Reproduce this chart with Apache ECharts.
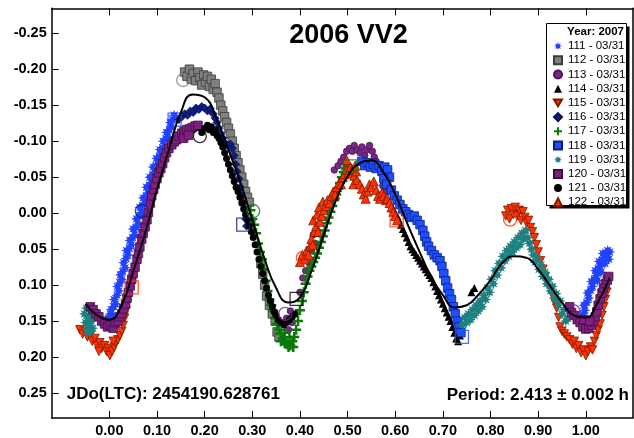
<!DOCTYPE html>
<html>
<head>
<meta charset="utf-8">
<script src="https://cdn.jsdelivr.net/npm/echarts@6/dist/echarts.min.js"></script>
<style>
html, body { margin: 0; padding: 0; background: #fff; }
#chart { width: 634px; height: 438px; }
</style>
</head>
<body>
<div id="chart"></div>
<script>
// ---- Lightcurve of asteroid 2006 VV2, 2007 sessions 111..122 (phase, reduced magnitude) ----

const sessionKeys = ['111', '112', '113', '114', '115', '116', '117', '118', '119', '120', '121', '122'];
const sessionDate = '03/31';

const s111 = [
  [-0.006,0.150],[-0.002,0.146],[0.002,0.140],[0.006,0.142],[0.004,0.134],[0.009,0.130],[0.013,0.126],[0.010,0.120],
  [0.016,0.114],[0.020,0.108],[0.017,0.102],[0.022,0.097],[0.026,0.092],[0.023,0.086],[0.028,0.081],[0.033,0.076],
  [0.030,0.069],[0.035,0.063],[0.039,0.058],[0.036,0.052],[0.042,0.049],[0.046,0.044],[0.043,0.038],[0.049,0.034],
  [0.053,0.030],[0.050,0.022],[0.056,0.020],[0.060,0.015],[0.057,0.008],[0.063,0.004],[0.067,-0.001],[0.064,-0.008],
  [0.070,-0.010],[0.074,-0.014],[0.071,-0.021],[0.077,-0.024],[0.081,-0.028],[0.078,-0.036],[0.084,-0.039],[0.088,-0.042],
  [0.085,-0.050],[0.091,-0.053],[0.095,-0.057],[0.092,-0.064],[0.098,-0.066],[0.102,-0.068],[0.099,-0.076],[0.105,-0.079],
  [0.109,-0.081],[0.106,-0.088],[0.112,-0.091],[0.116,-0.093],[0.113,-0.100],[0.119,-0.103],[0.123,-0.106],[0.120,-0.112],
  [0.126,-0.116],[0.130,-0.120],[0.128,-0.126],[0.133,-0.130],[0.136,-0.136],
  [0.990,0.146],[0.994,0.140],[0.998,0.135],[0.996,0.128],[1.002,0.124],[1.006,0.118],[1.004,0.111],[1.010,0.107],
  [1.014,0.102],[1.012,0.095],[1.018,0.092],[1.022,0.087],[1.020,0.080],[1.026,0.077],[1.030,0.074],[1.028,0.067],
  [1.034,0.066],[1.038,0.062],[1.036,0.056],[1.042,0.056],[1.046,0.052],[1.044,0.060],[1.050,0.054],[1.048,0.064],
  [1.040,0.070],[1.032,0.082],[1.024,0.094]
];
const s112 = [
  [0.158,-0.196],[0.163,-0.190],[0.168,-0.200],[0.172,-0.186],[0.176,-0.194],[0.181,-0.184],[0.186,-0.196],[0.190,-0.188],
  [0.194,-0.178],[0.198,-0.192],[0.202,-0.182],[0.206,-0.190],[0.210,-0.176],[0.214,-0.186],[0.218,-0.172],[0.222,-0.180],
  [0.226,-0.168],[0.230,-0.160],[0.234,-0.150],[0.238,-0.142],[0.242,-0.134],[0.246,-0.126],[0.250,-0.118],[0.254,-0.110],
  [0.258,-0.100],[0.262,-0.090],[0.266,-0.080],[0.270,-0.070],[0.274,-0.060],[0.278,-0.050],[0.282,-0.040],[0.286,-0.030],
  [0.290,-0.022],[0.294,-0.015],[0.318,0.070],[0.322,0.085],[0.326,0.100],[0.330,0.115],[0.336,0.128],[0.342,0.140],
  [0.348,0.150],[0.352,0.165],[0.356,0.172]
];
const s113 = [
  [0.472,-0.060],[0.480,-0.066],[0.486,-0.072],[0.492,-0.078],[0.498,-0.086],[0.504,-0.090],[0.510,-0.086],[0.514,-0.094],
  [0.520,-0.088],[0.526,-0.084],[0.530,-0.092],[0.536,-0.080],[0.540,-0.088],[0.546,-0.094],[0.552,-0.086],[0.556,-0.078],
  [0.560,-0.072],[0.574,-0.038],[0.580,-0.030],[0.584,-0.036],[0.372,0.146],[0.376,0.162],[0.380,0.136],[0.384,0.152],
  [0.406,0.090],[0.412,0.080],[0.418,0.068],[0.424,0.052],[0.428,0.030],[0.432,0.042],[0.400,0.110]
];
const s114 = [
  [0.596,-0.006],[0.600,0.000],[0.604,0.004],[0.608,0.010],[0.612,0.016],[0.616,0.022],[0.620,0.028],[0.624,0.034],
  [0.628,0.040],[0.632,0.046],[0.636,0.050],[0.640,0.054],[0.644,0.058],[0.648,0.062],[0.652,0.066],[0.656,0.070],
  [0.660,0.074],[0.664,0.078],[0.668,0.082],[0.672,0.086],[0.676,0.090],[0.680,0.096],[0.684,0.102],[0.688,0.108],
  [0.692,0.114],[0.696,0.120],[0.700,0.126],[0.704,0.132],[0.708,0.138],[0.712,0.144],[0.716,0.150],[0.720,0.158],
  [0.724,0.166],[0.728,0.174],[0.732,0.178],[0.736,0.170],[0.760,0.110],[0.766,0.104]
];
const s115 = [
  [-0.062,0.162],[-0.056,0.168],[-0.050,0.164],[-0.046,0.172],[-0.040,0.170],[-0.036,0.178],[-0.030,0.174],[-0.026,0.184],
  [-0.020,0.180],[-0.016,0.188],[-0.010,0.184],[-0.006,0.192],[-0.002,0.188],[0.001,0.198],[0.006,0.192],[0.010,0.186],
  [0.014,0.180],[0.018,0.176],[0.022,0.170],[0.026,0.164],[0.029,0.156],[0.032,0.146],[0.035,0.136],[0.038,0.126],
  [0.041,0.116],[0.044,0.108],[-0.022,0.192],[0.008,0.178],
  [0.832,0.004],[0.836,-0.004],[0.840,0.008],[0.844,-0.006],[0.848,0.002],[0.852,-0.008],[0.856,0.004],[0.860,-0.004],
  [0.864,0.010],[0.868,-0.002],[0.872,0.006],[0.876,0.014],[0.880,0.010],[0.884,0.020],[0.888,0.026],[0.892,0.034],
  [0.896,0.044],[0.900,0.054],[0.905,0.066],[0.910,0.078],[0.915,0.088],[0.920,0.096],[0.925,0.105],[0.930,0.114],
  [0.935,0.124],[0.939,0.132],[0.943,0.145],[0.946,0.158],[0.950,0.164],[0.955,0.168],[0.960,0.172],[0.966,0.176],
  [0.972,0.182],[0.976,0.178],[0.980,0.188],[0.985,0.184],[0.990,0.194],[0.995,0.190],[1.000,0.198],[1.005,0.192],
  [1.010,0.186],[1.014,0.190],[1.018,0.178],[1.022,0.170],[1.026,0.162],[1.030,0.154],[1.034,0.142],[1.038,0.130],
  [1.041,0.120],[1.044,0.110]
];
const s116 = [
  [0.146,-0.130],[0.152,-0.134],[0.158,-0.138],[0.164,-0.136],[0.170,-0.142],[0.176,-0.140],[0.182,-0.146],[0.188,-0.144],
  [0.194,-0.148],[0.200,-0.146],[0.206,-0.142],[0.212,-0.145],[0.218,-0.138],[0.222,-0.132],[0.226,-0.126],[0.230,-0.118],
  [0.234,-0.110],[0.238,-0.104],[0.242,-0.098],[0.248,-0.094],[0.254,-0.096],[0.258,-0.090],[0.262,-0.080],[0.265,-0.068],
  [0.268,-0.058],[0.272,-0.048],[0.275,-0.036],[0.278,-0.024],[0.281,-0.014],[0.284,-0.004],[0.286,0.008],[0.288,0.018]
];
const s117 = [
  [0.296,-0.004],[0.300,0.008],[0.304,0.016],[0.308,0.028],[0.312,0.042],[0.316,0.054],[0.320,0.064],[0.324,0.078],
  [0.328,0.094],[0.332,0.108],[0.336,0.120],[0.340,0.128],[0.344,0.136],[0.348,0.146],[0.352,0.154],[0.356,0.162],
  [0.360,0.168],[0.364,0.174],[0.368,0.178],[0.372,0.182],[0.376,0.186],[0.380,0.184],[0.384,0.178],[0.388,0.172],
  [0.392,0.162],[0.360,0.178],[0.368,0.166],[0.378,0.172],[0.386,0.186],[0.396,0.150],[0.400,0.135],[0.404,0.122],
  [0.408,0.110],[0.412,0.098],[0.416,0.088],[0.420,0.080],[0.424,0.074],[0.428,0.068],[0.432,0.062],[0.436,0.056],
  [0.440,0.048],[0.444,0.040],[0.448,0.032],[0.452,0.024],[0.456,0.014],[0.460,0.006],[0.464,-0.002],[0.468,-0.010],
  [0.472,-0.018],[0.476,-0.026],[0.480,-0.034],[0.484,-0.042],[0.488,-0.050],[0.492,-0.057],[0.496,-0.062],[0.500,-0.066]
];
const s118 = [
  [0.530,-0.072],[0.536,-0.066],[0.542,-0.070],[0.548,-0.064],[0.554,-0.068],[0.560,-0.062],[0.566,-0.066],[0.572,-0.058],
  [0.578,-0.064],[0.584,-0.060],[0.588,-0.050],[0.576,-0.048],[0.582,-0.040],[0.592,-0.032],[0.598,-0.024],[0.604,-0.018],
  [0.610,-0.012],[0.616,-0.006],[0.622,-0.002],[0.628,0.002],[0.634,0.006],[0.640,0.004],[0.646,0.010],[0.652,0.016],
  [0.658,0.024],[0.662,0.032],[0.666,0.040],[0.670,0.046],[0.676,0.052],[0.682,0.058],[0.688,0.062],[0.694,0.066],
  [0.698,0.074],[0.702,0.084],[0.706,0.094],[0.710,0.104],[0.714,0.112],[0.718,0.120],[0.722,0.130],[0.726,0.140],
  [0.730,0.150],[0.734,0.158],[0.738,0.166]
];
const s119 = [
  [-0.052,0.140],[-0.050,0.152],[-0.047,0.162],[-0.045,0.146],[-0.043,0.156],[-0.040,0.140],[-0.038,0.150],[-0.035,0.160],
  [-0.032,0.145],[-0.029,0.138],[-0.048,0.132],[-0.042,0.166],
  [0.742,0.155],[0.746,0.145],[0.750,0.152],[0.754,0.140],[0.758,0.148],[0.762,0.134],[0.766,0.142],[0.770,0.128],
  [0.774,0.136],[0.778,0.122],[0.782,0.130],[0.786,0.114],[0.790,0.120],[0.794,0.104],[0.798,0.110],[0.802,0.092],
  [0.806,0.098],[0.810,0.080],[0.814,0.086],[0.818,0.070],[0.822,0.076],[0.826,0.060],[0.830,0.066],[0.834,0.052],
  [0.838,0.060],[0.842,0.046],[0.846,0.054],[0.850,0.040],[0.854,0.048],[0.858,0.034],[0.862,0.044],[0.866,0.028],
  [0.870,0.036],[0.874,0.024],[0.878,0.034],[0.882,0.042],[0.886,0.050],[0.890,0.058],[0.894,0.068],[0.898,0.062],
  [0.902,0.078],[0.906,0.072],[0.910,0.088],[0.914,0.082],[0.918,0.098],[0.922,0.092],[0.926,0.108],[0.930,0.102],
  [0.934,0.118],[0.938,0.112],[0.942,0.128],[0.946,0.122],[0.950,0.140],[0.954,0.134],[0.958,0.150],[0.962,0.146]
];
const s120 = [
  [-0.040,0.130],[-0.034,0.134],[-0.028,0.140],[-0.022,0.144],[-0.016,0.150],[-0.010,0.154],[-0.004,0.158],[0.002,0.156],
  [0.008,0.160],[0.012,0.152],[0.018,0.150],[0.022,0.144],[0.026,0.140],[0.030,0.133],[0.034,0.126],[0.037,0.118],
  [0.040,0.110],[0.044,0.101],[0.047,0.092],[0.050,0.084],[0.054,0.075],[0.058,0.064],[0.061,0.056],[0.064,0.047],
  [0.068,0.036],[0.071,0.028],[0.075,0.019],[0.079,0.009],[0.082,-0.001],[0.086,-0.014],[0.089,-0.024],[0.093,-0.033],
  [0.096,-0.040],[0.100,-0.048],[0.104,-0.056],[0.108,-0.062],[0.112,-0.069],[0.116,-0.077],[0.120,-0.084],[0.125,-0.090],
  [0.131,-0.095],[0.136,-0.099],[0.141,-0.102],[0.146,-0.107],[0.152,-0.111],[0.157,-0.114],[0.162,-0.116],[0.168,-0.117],
  [0.174,-0.119],[0.180,-0.121],[0.186,-0.122],[0.156,-0.104],[0.166,-0.108],
  [0.966,0.130],[0.970,0.138],[0.976,0.142],[0.982,0.148],[0.988,0.152],[0.994,0.158],[1.000,0.161],[1.006,0.160],
  [1.012,0.156],[1.016,0.151],[1.020,0.144],[1.023,0.137],[1.026,0.128],[1.030,0.119],[1.034,0.111],[1.037,0.104],
  [1.041,0.098],[1.045,0.093],[1.048,0.088],[0.996,0.148],[1.008,0.150]
];
const s121 = [
  [0.194,-0.112],[0.200,-0.118],[0.206,-0.122],[0.210,-0.116],[0.214,-0.120],[0.218,-0.112],[0.222,-0.116],[0.226,-0.108],
  [0.230,-0.104],[0.234,-0.098],[0.238,-0.092],[0.242,-0.084],[0.246,-0.076],[0.250,-0.068],[0.254,-0.060],[0.258,-0.052],
  [0.262,-0.044],[0.266,-0.036],[0.270,-0.030],[0.274,-0.022],[0.278,-0.014],[0.282,-0.006],[0.286,0.002],[0.290,0.010],
  [0.294,0.018],[0.298,0.026],[0.302,0.034],[0.306,0.044],[0.310,0.054],[0.314,0.064],[0.318,0.074],[0.322,0.084],
  [0.326,0.094],[0.330,0.104],[0.334,0.114],[0.338,0.122],[0.342,0.130],[0.346,0.137],[0.350,0.142],[0.355,0.148],
  [0.360,0.152],[0.366,0.155],[0.372,0.152],[0.378,0.148],[0.384,0.144],[0.390,0.140]
];
const s122 = [
  [0.400,0.068],[0.405,0.058],[0.410,0.064],[0.414,0.052],[0.418,0.058],[0.421,0.046],[0.424,0.036],[0.427,0.044],
  [0.430,0.026],[0.428,0.010],[0.434,0.018],[0.436,0.002],[0.438,0.026],[0.442,0.012],[0.440,-0.008],[0.446,0.004],
  [0.450,-0.004],[0.448,-0.016],[0.454,-0.010],[0.458,-0.018],[0.462,-0.014],[0.466,-0.024],[0.470,-0.030],[0.474,-0.026],
  [0.478,-0.036],[0.482,-0.042],[0.486,-0.040],[0.490,-0.050],[0.494,-0.054],[0.498,-0.060],[0.502,-0.056],[0.506,-0.064],
  [0.510,-0.060],[0.514,-0.052],[0.518,-0.058],[0.512,-0.040],[0.520,-0.046],[0.526,-0.040],[0.530,-0.034],[0.534,-0.026],
  [0.538,-0.020],[0.542,-0.030],[0.546,-0.040],[0.550,-0.036],[0.555,-0.044],[0.560,-0.032],[0.564,-0.024],[0.568,-0.020],
  [0.572,-0.028],[0.576,-0.024],[0.580,-0.018],[0.584,-0.020],[0.588,-0.014],[0.592,-0.008],[0.596,-0.002],[0.600,0.004],
  [0.604,0.010],[0.498,-0.074],[0.516,-0.066]
];

// first / last observation of a session, drawn as open markers
const sessionStarts = [
  [0.155,-0.185,'112'],[0.068,-0.003,'116'],[0.190,-0.107,'121'],[0.302,-0.003,'117'],
  [0.406,0.062,'122'],[0.841,0.009,'115'],[0.369,0.140,'113'],[0.974,0.136,'120']
];
const sessionEnds = [
  [0.137,-0.130,'111'],[0.281,0.016,'116'],[0.505,-0.065,'117'],[0.047,0.103,'115'],
  [0.603,0.010,'122'],[0.393,0.119,'114'],[0.740,0.172,'118']
];

// Fourier fit of the composite lightcurve
const fitPhase = [-0.050,-0.025,0.000,0.025,0.050,0.075,0.100,0.125,0.150,0.175,0.200,0.225,0.250,0.275,0.300,
  0.325,0.350,0.375,0.400,0.425,0.450,0.475,0.500,0.525,0.550,0.575,0.600,0.625,0.650,0.675,0.700,
  0.725,0.750,0.775,0.800,0.825,0.850,0.875,0.900,0.925,0.950,0.975,1.000,1.025,1.050];
const fitMag = [0.126,0.142,0.148,0.129,0.081,0.028,-0.033,-0.088,-0.140,-0.165,-0.161,-0.131,-0.088,-0.043,0.009,
  0.062,0.104,0.124,0.117,0.079,0.030,-0.017,-0.051,-0.069,-0.073,-0.057,-0.026,0.014,0.052,0.088,0.114,
  0.131,0.128,0.113,0.093,0.069,0.060,0.062,0.078,0.101,0.124,0.142,0.145,0.124,0.090];

const phaseTicks = [0, 0.1, 0.2, 0.3, 0.4, 0.5, 0.6, 0.7, 0.8, 0.9, 1.0];
const magTicks = [-0.25, -0.20, -0.15, -0.10, -0.05, 0, 0.05, 0.10, 0.15, 0.20, 0.25];

const chartTitle = '2006 VV2';
const yearLabel = 'Year: 2007';
const epochLabel = 'JDo(LTC): 2454190.628761';
const periodLabel = 'Period: 2.413 \u00b1 0.002 h';

// ---- styling ----
const FONT = 'Arial, "Liberation Sans", Helvetica, sans-serif';
const ASTER = 'path://M20 10L14.5 11.9L17.07 17.07L11.9 14.5L10 20L8.1 14.5L2.93 17.07L5.5 11.9L0 10L5.5 8.1L2.93 2.93L8.1 5.5L10 0L11.9 5.5L17.07 2.93L14.5 8.1Z';
const PLUS = 'path://M7.5 0H12.5V7.5H20V12.5H12.5V20H7.5V12.5H0V7.5H7.5Z';
const DOWN = 'path://M0 0L20 0L10 17.3Z';

const look = {
  '111': { symbol: ASTER, size: 11, color: '#2242ff' },
  '112': { symbol: 'rect', size: 8.5, color: '#808080', border: '#3a3a3a' },
  '113': { symbol: 'circle', size: 6.5, color: '#7a2888', border: '#4a1455' },
  '114': { symbol: 'triangle', size: 8, color: '#000000' },
  '115': { symbol: DOWN, size: 8.5, color: '#ff3300', border: '#7a1800' },
  '116': { symbol: 'diamond', size: 8, color: '#0e1c86', border: '#05104a' },
  '117': { symbol: PLUS, size: 10, color: '#0a7a0a' },
  '118': { symbol: 'rect', size: 8.5, color: '#1f50ff', border: '#0a2080' },
  '119': { symbol: ASTER, size: 11, color: '#1f8080' },
  '120': { symbol: 'rect', size: 8.5, color: '#7f2080', border: '#3f0f40' },
  '121': { symbol: 'circle', size: 7, color: '#000000' },
  '122': { symbol: 'triangle', size: 9, color: '#ff3300', border: '#7a1800' }
};
const sessionData = { '111': s111, '112': s112, '113': s113, '114': s114, '115': s115, '116': s116,
  '117': s117, '118': s118, '119': s119, '120': s120, '121': s121, '122': s122 };

const names = sessionKeys.map(k => k + ' - ' + sessionDate);

const scatterSeries = sessionKeys.map((k, i) => ({
  type: 'scatter',
  name: names[i],
  data: sessionData[k],
  symbol: look[k].symbol,
  symbolSize: look[k].size,
  itemStyle: {
    color: look[k].color,
    borderColor: look[k].border || look[k].color,
    borderWidth: look[k].border ? 0.8 : 0,
    opacity: 1
  },
  z: 2,
  silent: true
}));

function openMarks(list, symbol) {
  return {
    type: 'scatter',
    data: list.map(m => ({ value: [m[0], m[1]], itemStyle: { borderColor: look[m[2]].color } })),
    symbol: symbol,
    symbolSize: 13,
    itemStyle: { color: 'rgba(0,0,0,0)', borderWidth: 1.3 },
    z: 3,
    silent: true
  };
}

const fitSeries = {
  type: 'line',
  data: fitPhase.map((p, i) => [p, fitMag[i]]),
  smooth: 0.5,
  showSymbol: false,
  lineStyle: { color: '#000', width: 2 },
  z: 4,
  silent: true
};

const frame = { show: true, onZero: false, lineStyle: { color: '#000', width: 1.5 } };
const labelFont = { color: '#000', fontFamily: FONT, fontWeight: 'bold', fontSize: 14.5 };
const tickStyle = { show: true, inside: true, length: 7, lineStyle: { color: '#000', width: 1 } };

const chart = echarts.init(document.getElementById('chart'), null, { renderer: 'canvas' });
chart.setOption({
  animation: false,
  backgroundColor: '#fff',
  grid: { left: 51.7, top: 8.3, right: 1.5, bottom: 18.7, containLabel: false },
  xAxis: [
    {
      type: 'value', position: 'bottom', min: -0.121, max: 1.098,
      axisLine: frame,
      axisTick: Object.assign({ customValues: phaseTicks }, tickStyle),
      axisLabel: Object.assign({ show: true, margin: 5, customValues: phaseTicks, formatter: v => v.toFixed(2) }, labelFont),
      splitLine: { show: false }
    },
    {
      type: 'value', position: 'top', min: -0.121, max: 1.098,
      axisLine: frame,
      axisTick: Object.assign({ customValues: phaseTicks }, tickStyle),
      axisLabel: { show: false },
      splitLine: { show: false }
    }
  ],
  yAxis: [
    {
      type: 'value', position: 'left', inverse: true, min: -0.2846, max: 0.2846,
      axisLine: frame,
      axisTick: Object.assign({ customValues: magTicks }, tickStyle),
      axisLabel: Object.assign({ show: true, margin: 5, customValues: magTicks, formatter: v => v.toFixed(2) }, labelFont),
      splitLine: { show: false }
    },
    {
      type: 'value', position: 'right', inverse: true, min: -0.2846, max: 0.2846,
      axisLine: frame,
      axisTick: { show: false },
      axisLabel: { show: false },
      splitLine: { show: false }
    }
  ],
  legend: {
    data: names,
    orient: 'vertical',
    left: 553,
    top: 39,
    padding: 0,
    itemGap: 0,
    itemWidth: 8,
    itemHeight: 8,
    selectedMode: false,
    z: 10,
    textStyle: { color: '#000', fontFamily: FONT, fontSize: 11.5, lineHeight: 14.2, padding: [0, 0, 0, 1] }
  },
  graphic: [
    { type: 'rect', z: 5, shape: { x: 549.5, y: 26.5, width: 80, height: 182 }, style: { fill: '#000' } },
    { type: 'rect', z: 6, shape: { x: 546.5, y: 23.5, width: 80, height: 182 }, style: { fill: '#fff', stroke: '#000', lineWidth: 1 } },
    { type: 'text', z: 11, x: 624, y: 32, style: { text: yearLabel, fill: '#000', font: 'bold 11.5px ' + FONT, align: 'right', verticalAlign: 'middle' } },
    { type: 'text', z: 11, x: 348.5, y: 36, style: { text: chartTitle, fill: '#000', font: 'bold 27px ' + FONT, align: 'center', verticalAlign: 'middle' } },
    { type: 'text', z: 11, x: 66.7, y: 394.5, style: { text: epochLabel, fill: '#000', font: 'bold 17px ' + FONT, align: 'left', verticalAlign: 'middle' } },
    { type: 'text', z: 11, x: 629, y: 395.5, style: { text: periodLabel, fill: '#000', font: 'bold 17px ' + FONT, align: 'right', verticalAlign: 'middle' } }
  ],
  series: scatterSeries.concat([openMarks(sessionStarts, 'circle'), openMarks(sessionEnds, 'rect'), fitSeries])
});
</script>
</body>
</html>
